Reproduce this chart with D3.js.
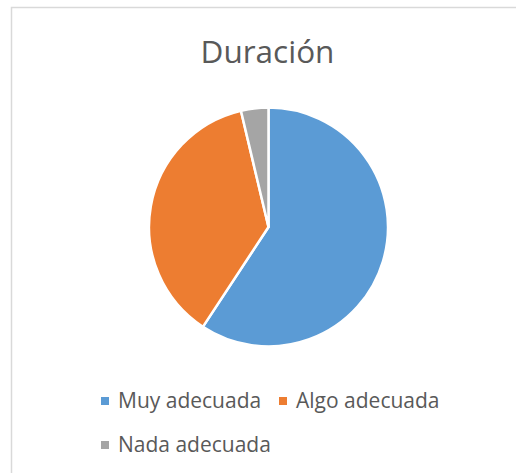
<!DOCTYPE html>
<html lang="es">
<head>
	<meta charset="UTF-8"/>
	<title>Duración</title>
	<script src="https://d3js.org/d3.v7.min.js"></script>
	<style>
		body { margin: 0; background: #fff; }
		text { font-family: "Open Sans", sans-serif; fill: #595959; }
	</style>
</head>
<body>
	<script>
		// data
		var categories = ["Muy adecuada", "Algo adecuada", "Nada adecuada"];
		var values = [16, 10, 1];
		var colors = ["#5B9BD5", "#ED7D31", "#A5A5A5"];
		var title = "Duración";

		var w = 516;
		var h = 473;
		var cx = 268.5, cy = 227, radius = 119.5;

		var svg = d3.select("body")
					.append("svg")
					.attr("width", w)
					.attr("height", h);

		// chart frame
		svg.append("rect")
			.attr("x", 11.5)
			.attr("y", 7.5)
			.attr("width", w)
			.attr("height", h)
			.attr("fill", "#fff")
			.attr("stroke", "#D9D9D9")
			.attr("stroke-width", 1.5);

		svg.append("text")
			.attr("x", cx - 1)
			.attr("y", 63)
			.attr("text-anchor", "middle")
			.style("font-size", "31.5px")
			.text(title);

		var pie = d3.pie().sort(null).value(function(d) { return d; });
		var arc = d3.arc().innerRadius(0).outerRadius(radius);
		var color = d3.scaleOrdinal().domain(categories).range(colors);

		var g = svg.append("g").attr("transform", "translate(" + cx + "," + cy + ")");
		g.selectAll("path")
			.data(pie(values))
			.enter()
			.append("path")
			.attr("d", arc)
			.attr("fill", function(d, i) { return color(categories[i]); })
			.attr("stroke", "#fff")
			.attr("stroke-width", 2.5)
			.attr("stroke-linejoin", "round");

		// legend (two rows, like the original)
		var legendPos = [[101, 401], [279, 401], [101, 445]];
		var leg = svg.selectAll(".leg")
			.data(categories)
			.enter()
			.append("g")
			.attr("class", "leg")
			.attr("transform", function(d, i) {
				return "translate(" + legendPos[i][0] + "," + legendPos[i][1] + ")";
			});
		leg.append("rect")
			.attr("x", 0)
			.attr("y", -4)
			.attr("width", 8)
			.attr("height", 8)
			.attr("fill", function(d) { return color(d); });
		leg.append("text")
			.attr("x", 17)
			.attr("y", 7)
			.style("font-size", "21px")
			.text(function(d) { return d; });
	</script>
</body>
</html>
